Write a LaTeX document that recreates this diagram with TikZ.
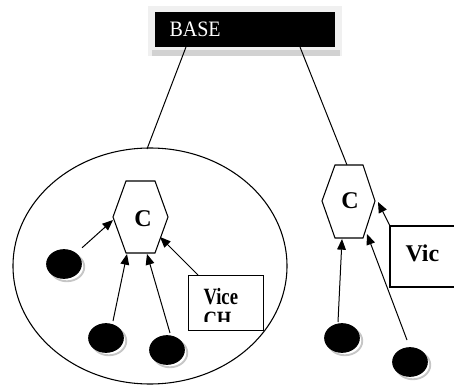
\documentclass[tikz,border=0pt]{standalone}
\usepackage{fontspec}
\usepackage{graphicx}
\setmainfont{Liberation Serif}
\usetikzlibrary{arrows.meta,shapes.geometric,shadows}
\begin{document}
\begin{tikzpicture}[x=0.75pt,y=-0.75pt,line width=0.75pt,
  arr/.style={-{Triangle[length=8pt,width=6.5pt]}},
  dot/.style={ellipse,fill=black,draw=black,inner sep=0pt,minimum width=26pt,minimum height=21.5pt,
    drop shadow={shadow xshift=2.2pt,shadow yshift=-2.2pt,opacity=1,fill=white,draw=gray!45,line width=1.4pt}},
  hexa/.style={draw=black,fill=white,line width=0.8pt},
  lbl/.style={font=\fontsize{18}{20}\selectfont\bfseries,inner sep=0pt},
  small/.style={font=\fontsize{14}{16}\selectfont\bfseries,inner sep=0pt},
  boxed/.style={draw=black,fill=white,line width=0.8pt}]
\useasboundingbox (0,0) rectangle (454,385);
\clip (0,0) rectangle (454,385);

% BASE box with soft frame
\fill[gray!12] (148,6) rectangle (342,56);
\fill[gray!35] (152,50) rectangle (340,56);
\node[fill=black,minimum width=135pt,minimum height=26.25pt,inner sep=0pt,anchor=north west] (base) at (154,12) {};
\node[anchor=base west,text=white,font=\fontsize{15}{17}\selectfont,inner sep=0pt] (basetxt) at (169,37) {\scalebox{1}[1.1]{BASE}};

% cluster ellipse
\node[ellipse,draw=black,line width=0.8pt,minimum width=205.5pt,minimum height=177pt,inner sep=0pt] (cluster) at (150,266) {};

% coordinates for connectors
\coordinate (bl) at (186,47);
\coordinate (br) at (300,47);
\coordinate (ctop) at (147,149);
\coordinate (h2top) at (347,165);
\draw (bl) -- (ctop);
\draw (br) -- (h2top);

% hexagon 1
\draw[hexa] (126,181) -- (155,181) -- (168,217) -- (155,253) -- (126,253) -- (113,217) -- cycle;
\node[lbl] (c1) at (143,219) {C};
% hexagon 2
\draw[hexa] (335,165) -- (363,165) -- (375,201) -- (363,238) -- (335,238) -- (322,201) -- cycle;
\node[lbl] (c2) at (350,201) {C};

% member nodes
\node[dot] (n1) at (64,264) {};
\node[dot] (n2) at (106,338) {};
\node[dot] (n3) at (167,350) {};
\node[dot] (n4) at (342,338) {};
\node[dot] (n5) at (410,362) {};

% Vice CH box
\node[boxed,minimum width=56.25pt,minimum height=41.25pt,inner sep=0pt,anchor=north west] (vice) at (188,275) {};
\begin{scope}
  \clip (189,276) rectangle (262,321);
  \node[small,anchor=base west] (vicet) at (203,304) {\scalebox{1}[1.25]{Vice}};
  \node[small,anchor=base west] (cht) at (203,327) {\scalebox{1}[1.25]{CH}};
\end{scope}

% Vic box (runs off the right edge)
\draw[boxed] (470,226) -- (390,226) -- (390,287) -- (470,287);
\coordinate (vic) at (390,226);
\node[lbl,anchor=base west] (vict) at (405,261) {Vic};

% arrow targets on hexagons
\coordinate (t1) at (113,220);
\coordinate (t2) at (127,254);
\coordinate (t3) at (147,254);
\coordinate (t4) at (160,237);
\coordinate (t5) at (378,202);
\coordinate (t6) at (342,239);
\coordinate (t7) at (367,234);

\draw[arr,shorten <=6pt] (n1) -- (t1);
\draw[arr] (113,321) -- (t2);
\draw[arr] (170,333) -- (t3);
\draw[arr] (vice.north west) ++(10,0) coordinate (vs) -- (t4);
\draw[arr] (vic) -- (t5);
\draw[arr] (338,322) -- (t6);
\draw[arr] (407,340) -- (t7);
\end{tikzpicture}
\end{document}
